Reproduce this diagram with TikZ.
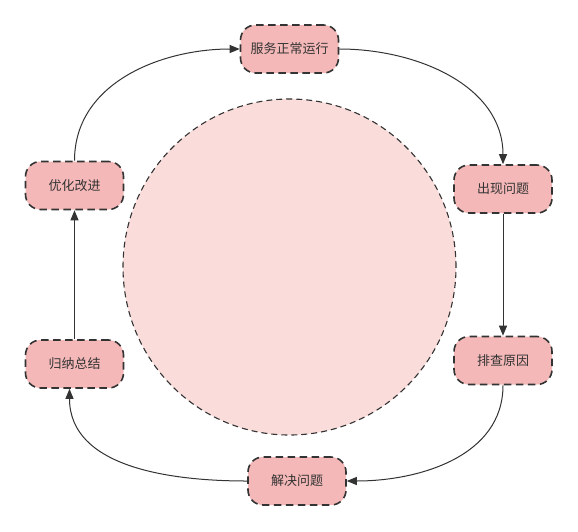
\documentclass[tikz,border=0pt]{standalone}
\usepackage{fontspec}
\setmainfont{Noto Sans CJK SC}
\usetikzlibrary{shapes.geometric,arrows.meta}
\definecolor{boxfill}{HTML}{F5B8B8}
\definecolor{ellfill}{HTML}{FADCDB}
\definecolor{linec}{HTML}{333333}
\begin{document}
\begin{tikzpicture}[x=1pt,y=-1pt,
  stepbox/.style={draw=linec, fill=boxfill, line width=1.6pt, dash pattern=on 7.5pt off 4.5pt,
    rounded corners=15pt, minimum width=98pt, minimum height=48pt, inner sep=0pt,
    font=\fontsize{13}{15}\selectfont, text=linec},
  conn/.style={draw=linec, line width=1pt, -{Triangle[length=10pt,width=8pt]}}
]
\useasboundingbox (0,0) rectangle (578,531);
\node[ellipse, draw=linec, fill=ellfill, line width=1.1pt, dash pattern=on 6pt off 4pt,
  minimum width=333pt, minimum height=336pt, inner sep=0pt] (core) at (289.5,267) {};
\node[stepbox] (fw) at (289.5,49) {服务正常运行};
\node[stepbox] (cx) at (503,189) {出现问题};
\node[stepbox] (pc) at (503,360.5) {排查原因};
\node[stepbox] (jj) at (297,481) {解决问题};
\node[stepbox] (gj) at (74.5,364) {归纳总结};
\node[stepbox] (yh) at (74.5,185.5) {优化改进};
\draw[conn] (fw.east) to[out=0,in=90] (cx.north);
\draw[conn] (cx.south) -- (pc.north);
\draw[conn] (pc.south) to[out=-90,in=0] (jj.east);
\draw[conn] (jj.west) to[out=180,in=-90] ([xshift=-5pt]gj.south);
\draw[conn] (gj.north) -- (yh.south);
\draw[conn] (yh.north) to[out=90,in=180] (fw.west);
\end{tikzpicture}
\end{document}
